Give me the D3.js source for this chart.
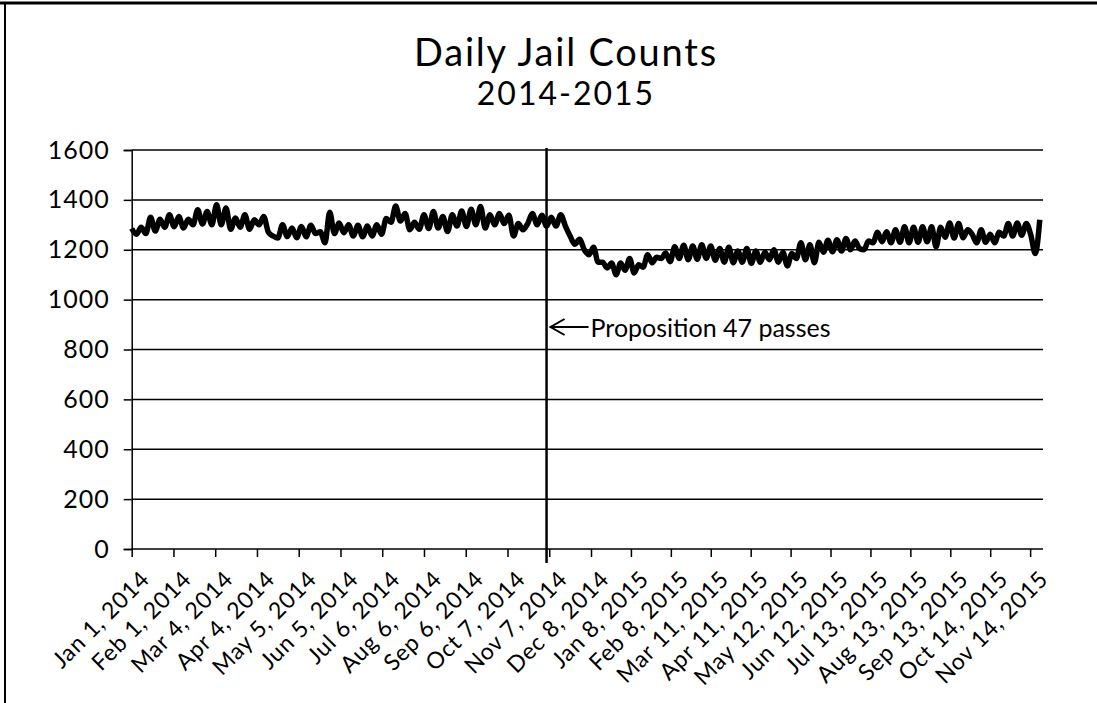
<!DOCTYPE html>
<html>
<head>
<meta charset="utf-8">
<script src="https://cdn.jsdelivr.net/npm/d3@7"></script>
<style>
  html, body { margin: 0; background: #fff; overflow: hidden; }
  svg { display: block; }
  text { font-family: 'Century Gothic', 'URW Gothic', Lato, sans-serif; fill: #000; }
</style>
</head>
<body>
<div id="chart"></div>
<script>
///////////// Data //////////////
// daily jail counts, sampled every 3.5 days (alternating weekly highs and lows)
const start_date = new Date(Date.UTC(2014, 0, 1));
const step_days = 3.5;
const counts = [
  // Jan - May 2014
  1285, 1262, 1290, 1265, 1330, 1275, 1322, 1290, 1340, 1292,
  1333, 1287, 1322, 1300, 1360, 1303, 1353, 1300, 1380, 1300,
  1367, 1282, 1327, 1290, 1340, 1282, 1320, 1300, 1333, 1270,
  1255, 1247, 1300, 1253, 1287, 1248, 1293, 1252, 1298, 1265,
  // May - Sep 2014
  1272, 1228, 1350, 1265, 1307, 1268, 1300, 1255, 1298, 1252,
  1295, 1255, 1300, 1262, 1325, 1310, 1375, 1315, 1345, 1280,
  1310, 1282, 1340, 1285, 1353, 1287, 1333, 1273, 1340, 1295,
  1355, 1293, 1362, 1300, 1373, 1287, 1340, 1300,
  // Oct 2014 - Feb 2015
  1345, 1305, 1338, 1255, 1305, 1280, 1305, 1345, 1300, 1338,
  1295, 1330, 1295, 1340, 1295, 1255, 1222, 1242, 1200, 1180,
  1210, 1150, 1150, 1127, 1147, 1100, 1147, 1118, 1165, 1107,
  1140, 1130, 1180, 1148, 1170, 1165, 1187, 1152, 1212,
  // Feb - Jul 2015
  1165, 1218, 1160, 1215, 1162, 1220, 1165, 1215, 1158, 1205,
  1150, 1210, 1148, 1195, 1150, 1205, 1145, 1195, 1150, 1190,
  1160, 1200, 1150, 1190, 1135, 1185, 1165, 1228, 1160, 1220,
  1148, 1230, 1190, 1238, 1192, 1240, 1195, 1245, 1200, 1235,
  1205,
  // Jul - Nov 2015
  1200, 1235, 1228, 1270, 1232, 1272, 1228, 1280, 1230, 1292,
  1228, 1290, 1230, 1292, 1232, 1292, 1212, 1290, 1250, 1307,
  1247, 1305, 1248, 1280, 1262, 1228, 1280, 1230, 1262, 1228,
  1270, 1255, 1305, 1255, 1307, 1258, 1305, 1260, 1185, 1320
];
const y_ticks = [0, 200, 400, 600, 800, 1000, 1200, 1400, 1600];
const tick_step_days = 31;
const tick_count = 23;
const prop47_date = new Date(Date.UTC(2014, 10, 5));
const title_text = 'Daily Jail Counts';
const subtitle_text = '2014-2015';
const note_text = 'Proposition 47 passes';

///////////// Layout //////////////
const width = 1097, height = 703;
const plot_left = 131.7, plot_right = 1043, plot_top = 150, plot_bottom = 549;
const day_ms = 86400000;

const svg = d3.select('#chart').append('svg')
  .attr('width', width)
  .attr('height', height);

svg.append('rect')
  .attr('width', width).attr('height', height)
  .attr('fill', '#fff');

// page frame (top and left edges)
svg.append('line')
  .attr('x1', 0).attr('x2', width).attr('y1', 3).attr('y2', 3)
  .attr('stroke', '#000').attr('stroke-width', 3);
svg.append('line')
  .attr('x1', 5).attr('x2', 5).attr('y1', 3).attr('y2', height)
  .attr('stroke', '#000').attr('stroke-width', 2);

// scanned axis is slightly stretched before Dec 2014, so use a two-piece time scale
const x = d3.scaleUtc()
  .domain([start_date, new Date(Date.UTC(2014, 11, 8)), new Date(Date.UTC(2015, 10, 24))])
  .range([plot_left, 591, plot_right]);
const y = d3.scaleLinear()
  .domain([0, 1600])
  .range([plot_bottom, plot_top]);

const points = counts.map((c, i) => ({ date: new Date(start_date.getTime() + i * step_days * day_ms), value: c }));
const tick_dates = d3.range(tick_count).map(i => new Date(start_date.getTime() + i * tick_step_days * day_ms));

// title
svg.append('text')
  .attr('x', 566).attr('y', 66)
  .attr('text-anchor', 'middle')
  .style('font-size', '38px')
  .style('letter-spacing', '1.8px')
  .text(title_text);
svg.append('text')
  .attr('x', 566).attr('y', 105)
  .attr('text-anchor', 'middle')
  .style('font-size', '32px')
  .style('letter-spacing', '2px')
  .text(subtitle_text);

// gridlines
svg.append('g').selectAll('line')
  .data(y_ticks.filter(d => d > 0))
  .join('line')
  .attr('x1', plot_left).attr('x2', plot_right)
  .attr('y1', d => y(d)).attr('y2', d => y(d))
  .attr('stroke', '#000').attr('stroke-width', 1.5);

// y axis
const y_axis = d3.axisLeft(y).tickValues(y_ticks).tickFormat(d3.format('d')).tickSize(8).tickPadding(14);
svg.append('g')
  .attr('transform', `translate(${plot_left},0)`)
  .call(y_axis)
  .call(g => g.select('.domain').attr('stroke-width', 1.5))
  .call(g => g.selectAll('.tick line').attr('stroke-width', 1.5))
  .call(g => g.selectAll('.tick text')
    .attr('fill', '#000')
    .style('font-size', '25px')
    .style('letter-spacing', '1px')
    .style('font-family', "'Century Gothic', Lato, sans-serif"));

// x axis
const x_axis = d3.axisBottom(x).tickValues(tick_dates).tickSize(8).tickFormat('');
svg.append('g')
  .attr('transform', `translate(0,${plot_bottom})`)
  .call(x_axis)
  .call(g => g.select('.domain').attr('stroke-width', 1.5).attr('d', `M${plot_left},0H${plot_right}`))
  .call(g => g.selectAll('.tick line').attr('stroke-width', 1.5));

const fmt = d3.utcFormat('%b %-d, %Y');
svg.append('g').selectAll('text')
  .data(tick_dates)
  .join('text')
  .attr('transform', d => `translate(${x(d) + 8},${plot_bottom + 20}) rotate(-45)`)
  .attr('text-anchor', 'end')
  .attr('dy', '0.7em')
  .style('font-size', '23px')
  .style('letter-spacing', '0.8px')
  .text(d => fmt(d));

// data line
const line = d3.line()
  .x(d => x(d.date))
  .y(d => y(d.value))
  .curve(d3.curveMonotoneX);
svg.append('path')
  .datum(points)
  .attr('d', line)
  .attr('fill', 'none')
  .attr('stroke', '#000')
  .attr('stroke-width', 5.5)
  .attr('stroke-linejoin', 'round');

// Proposition 47 marker
svg.append('line')
  .attr('x1', x(prop47_date)).attr('x2', x(prop47_date))
  .attr('y1', plot_top - 2).attr('y2', plot_bottom + 14)
  .attr('stroke', '#000').attr('stroke-width', 2.5);

const ax = x(prop47_date) + 4, ay = 327;
svg.append('path')
  .attr('d', `M${ax + 38},${ay}H${ax} M${ax + 14},${ay - 8}L${ax},${ay}L${ax + 14},${ay + 8}`)
  .attr('fill', 'none')
  .attr('stroke', '#000')
  .attr('stroke-width', 2);
svg.append('text')
  .attr('x', ax + 40).attr('y', 337)
  .style('font-size', '25px')
  .text(note_text);
</script>
</body>
</html>
